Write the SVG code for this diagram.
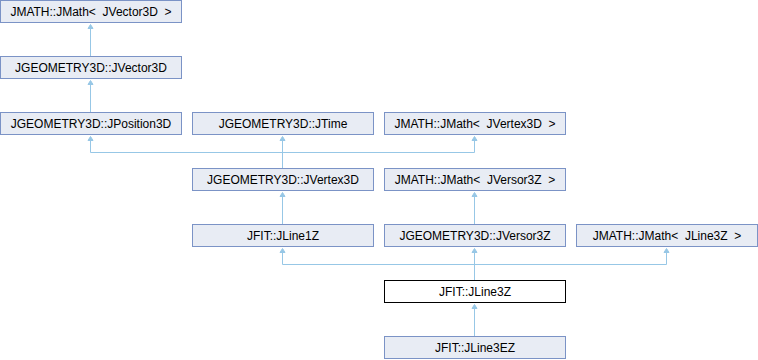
<svg xmlns="http://www.w3.org/2000/svg" width="758" height="360" viewBox="0 0 758 360">
<style>
.n rect{fill:#E8ECF4;stroke:#7B93C6;stroke-width:1}
.n.cur rect{fill:#FFFFFF;stroke:#000000}
.n text{font-family:"Liberation Sans",Arial,sans-serif;font-size:12px;fill:#000;text-anchor:middle;white-space:pre}
.e{fill:none;stroke:#97C7E6;stroke-width:1}
.a{fill:#97C7E6;stroke:#97C7E6;stroke-width:1}
</style>
<rect width="758" height="360" fill="#FFFFFF"/>
<g id="connectors">
  <path class="e" d="M90.5,56V28"/>
  <polygon class="a" points="90.5,24.5 88,28.5 93,28.5"/>
  <path class="e" d="M90.5,112V84"/>
  <polygon class="a" points="90.5,80.5 88,84.5 93,84.5"/>
  <path class="e" d="M282.5,168V152.5M90.5,152.5H474.5M90.5,152.5V140M282.5,152.5V140M474.5,152.5V140"/>
  <polygon class="a" points="90.5,136.5 88,140.5 93,140.5"/>
  <polygon class="a" points="282.5,136.5 280,140.5 285,140.5"/>
  <polygon class="a" points="474.5,136.5 472,140.5 477,140.5"/>
  <path class="e" d="M282.5,224V196"/>
  <polygon class="a" points="282.5,192.5 280,196.5 285,196.5"/>
  <path class="e" d="M474.5,224V196"/>
  <polygon class="a" points="474.5,192.5 472,196.5 477,196.5"/>
  <path class="e" d="M474.5,280V264.5M282.5,264.5H666.5M282.5,264.5V252M474.5,264.5V252M666.5,264.5V252"/>
  <polygon class="a" points="282.5,248.5 280,252.5 285,252.5"/>
  <polygon class="a" points="474.5,248.5 472,252.5 477,252.5"/>
  <polygon class="a" points="666.5,248.5 664,252.5 669,252.5"/>
  <path class="e" d="M474.5,336V308"/>
  <polygon class="a" points="474.5,304.5 472,308.5 477,308.5"/>
</g>
<g id="JMath_JVector3D" class="n"><rect x="0.5" y="0.5" width="181" height="22"/><text x="91" y="16">JMATH::JMath&lt;&#160; JVector3D&#160; &gt;</text></g>
<g id="JVector3D" class="n"><rect x="0.5" y="56.5" width="181" height="22"/><text x="91" y="72">JGEOMETRY3D::JVector3D</text></g>
<g id="JPosition3D" class="n"><rect x="0.5" y="112.5" width="181" height="22"/><text x="91" y="128">JGEOMETRY3D::JPosition3D</text></g>
<g id="JTime" class="n"><rect x="192.5" y="112.5" width="181" height="22"/><text x="283" y="128">JGEOMETRY3D::JTime</text></g>
<g id="JMath_JVertex3D" class="n"><rect x="384.5" y="112.5" width="181" height="22"/><text x="475" y="128">JMATH::JMath&lt;&#160; JVertex3D&#160; &gt;</text></g>
<g id="JVertex3D" class="n"><rect x="192.5" y="168.5" width="181" height="22"/><text x="283" y="184">JGEOMETRY3D::JVertex3D</text></g>
<g id="JMath_JVersor3Z" class="n"><rect x="384.5" y="168.5" width="181" height="22"/><text x="475" y="184">JMATH::JMath&lt;&#160; JVersor3Z&#160; &gt;</text></g>
<g id="JLine1Z" class="n"><rect x="192.5" y="224.5" width="181" height="22"/><text x="283" y="240">JFIT::JLine1Z</text></g>
<g id="JVersor3Z" class="n"><rect x="384.5" y="224.5" width="181" height="22"/><text x="475" y="240">JGEOMETRY3D::JVersor3Z</text></g>
<g id="JMath_JLine3Z" class="n"><rect x="576.5" y="224.5" width="181" height="22"/><text x="667" y="240">JMATH::JMath&lt;&#160; JLine3Z&#160; &gt;</text></g>
<g id="JLine3Z" class="n cur"><rect x="384.5" y="280.5" width="181" height="22"/><text x="475" y="296">JFIT::JLine3Z</text></g>
<g id="JLine3EZ" class="n"><rect x="384.5" y="336.5" width="181" height="22"/><text x="475" y="352">JFIT::JLine3EZ</text></g>
</svg>
